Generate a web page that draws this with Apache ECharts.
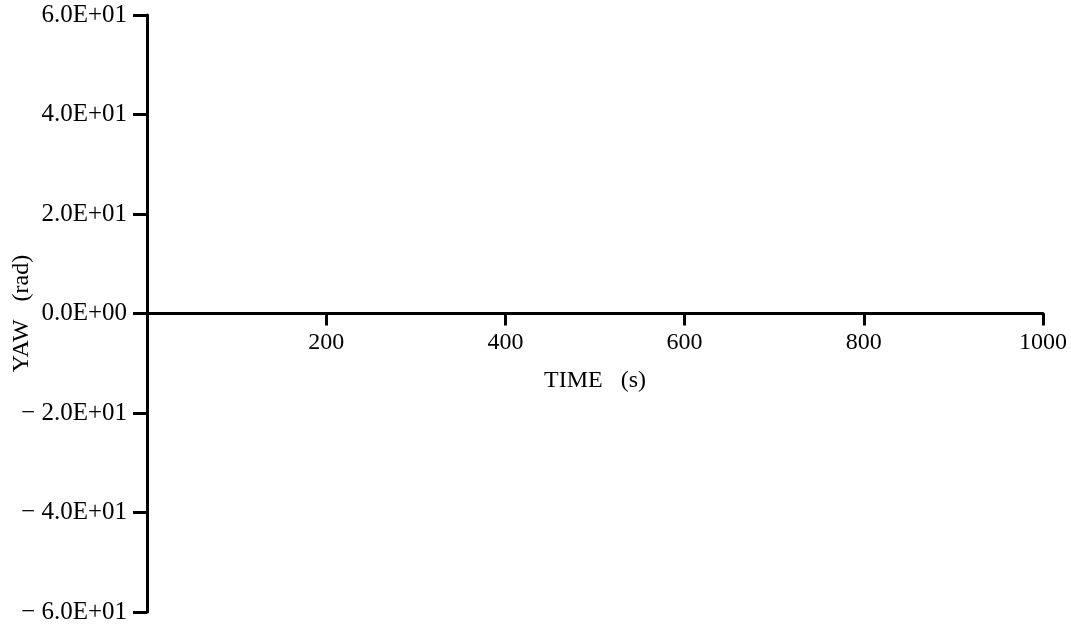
<!DOCTYPE html>
<html>
<head>
<meta charset="utf-8">
<script src="https://cdn.jsdelivr.net/npm/echarts@6/dist/echarts.min.js"></script>
<style>html,body{margin:0;padding:0;background:#fff;}#c{width:1071px;height:630px;}</style>
</head>
<body>
<div id="c"></div>
<script>
// data
var time = [0, 100, 200, 300, 400, 500, 600, 700, 800, 900, 1000];
var yaw = [0, 0, 0, 0, 0, 0, 0, 0, 0, 0, 0];
var yTickValues = [-60, -40, -20, 0, 20, 40, 60];
var yTickLabels = ['\u2212 6.0E+01', '\u2212 4.0E+01', '\u2212 2.0E+01', '0.0E+00', '2.0E+01', '4.0E+01', '6.0E+01'];
var xTickValues = [200, 400, 600, 800, 1000];
var xTickLabels = ['200', '400', '600', '800', '1000'];

var font = 'Liberation Serif';
var W = 1071, H = 630;
var gTop = 15, gBottom = 18;
var gridH = H - gTop - gBottom;
var chart = echarts.init(document.getElementById('c'));
chart.setOption({
  animation: false,
  backgroundColor: '#fff',
  grid: {left: 147, right: 28, top: gTop, bottom: gBottom, outerBoundsMode: 'none', containLabel: false},
  xAxis: {
    type: 'value', min: 0, max: 1000, interval: 200,
    position: 'bottom', offset: -gridH / 2,
    name: 'TIME   (s)', nameLocation: 'middle', nameGap: 55, nameMoveOverlap: false,
    nameTextStyle: {fontFamily: font, fontSize: 24, color: '#000'},
    axisLine: {onZero: false, lineStyle: {color: '#000', width: 3}},
    axisTick: {show: true, length: 12, inside: false, lineStyle: {color: '#000', width: 3}},
    axisLabel: {
      margin: 17, fontFamily: font, fontSize: 24, color: '#000', showMinLabel: false,
      formatter: function (v) { var i = xTickValues.indexOf(v); return i >= 0 ? xTickLabels[i] : ''; }
    },
    splitLine: {show: false}
  },
  yAxis: {
    type: 'value', min: -60, max: 60, interval: 20,
    name: 'YAW   (rad)', nameLocation: 'middle', nameGap: 113, nameRotate: 90, nameMoveOverlap: false,
    nameTextStyle: {fontFamily: font, fontSize: 24, color: '#000'},
    axisLine: {lineStyle: {color: '#000', width: 3}},
    axisTick: {show: true, length: 14, lineStyle: {color: '#000', width: 3}},
    axisLabel: {
      margin: 20, fontFamily: font, fontSize: 25, color: '#000',
      formatter: function (v) { var i = yTickValues.indexOf(v); return i >= 0 ? yTickLabels[i] : ''; }
    },
    splitLine: {show: false}
  },
  series: [{
    type: 'line', symbol: 'none',
    data: time.map(function (t, i) { return [t, yaw[i]]; }),
    lineStyle: {color: '#000', width: 3}
  }]
});
</script>
</body>
</html>
